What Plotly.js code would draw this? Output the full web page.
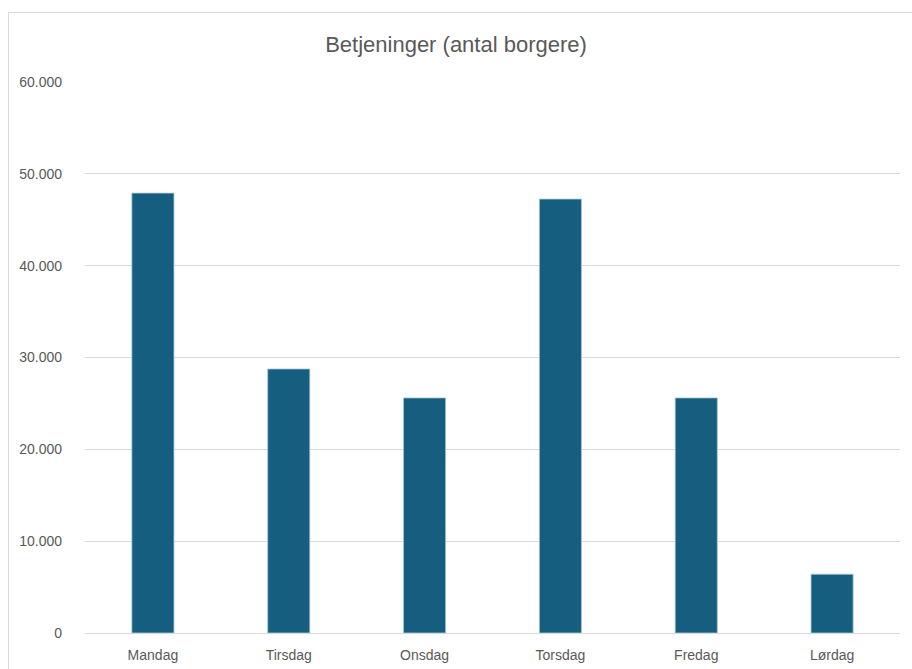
<!DOCTYPE html>
<html>
<head>
<meta charset="utf-8">
<script src="https://cdn.plot.ly/plotly-3.0.1.min.js"></script>
<style>
  html, body { margin:0; padding:0; background:#fff; overflow:hidden; }
  #chart { width:912px; height:669px; position:absolute; left:0; top:0; }
  #frame { position:absolute; left:8px; top:12px; width:1000px; height:1000px; border:1px solid #d9d9d9; pointer-events:none; }
</style>
</head>
<body>
<div id="chart"></div>
<div id="frame"></div>
<script>
const categories = ["Mandag", "Tirsdag", "Onsdag", "Torsdag", "Fredag", "Lørdag"];
const values = [47900, 28750, 25600, 47250, 25600, 6400];
const yTicks = [0, 10000, 20000, 30000, 40000, 50000, 60000];

const fontFam = "'Liberation Sans', Arial, sans-serif";

const trace = {
  type: "bar",
  x: categories,
  y: values,
  marker: { color: "#165E80", line: { color: "#a9c6d5", width: 0.8 } },
  hoverinfo: "x+y"
};

const layout = {
  width: 912,
  height: 669,
  paper_bgcolor: "#ffffff",
  plot_bgcolor: "#ffffff",
  separators: ",.",
  margin: { l: 85, r: 12, t: 82, b: 36 },
  bargap: 0.69,
  showlegend: false,
  title: {
    text: "Betjeninger (antal borgere)",
    font: { family: fontFam, size: 22, color: "#595959" },
    x: 0.5, xanchor: "center",
    y: 1 - 44 / 669, yanchor: "middle", yref: "container"
  },
  xaxis: {
    type: "category",
    showgrid: false,
    showline: true,
    linecolor: "#d9d9d9",
    linewidth: 1,
    ticks: "",
    ticklabelstandoff: 9,
    tickfont: { family: fontFam, size: 14, color: "#595959" },
    zeroline: false
  },
  yaxis: {
    range: [0, 60000],
    tickvals: yTicks,
    tickformat: ",d",
    showgrid: true,
    gridcolor: "#d9d9d9",
    gridwidth: 1,
    zeroline: false,
    showline: false,
    ticks: "",
    ticklabelstandoff: 22,
    tickfont: { family: fontFam, size: 14, color: "#595959" }
  }
};

Plotly.newPlot("chart", [trace], layout, { displayModeBar: false, staticPlot: true });
</script>
</body>
</html>
